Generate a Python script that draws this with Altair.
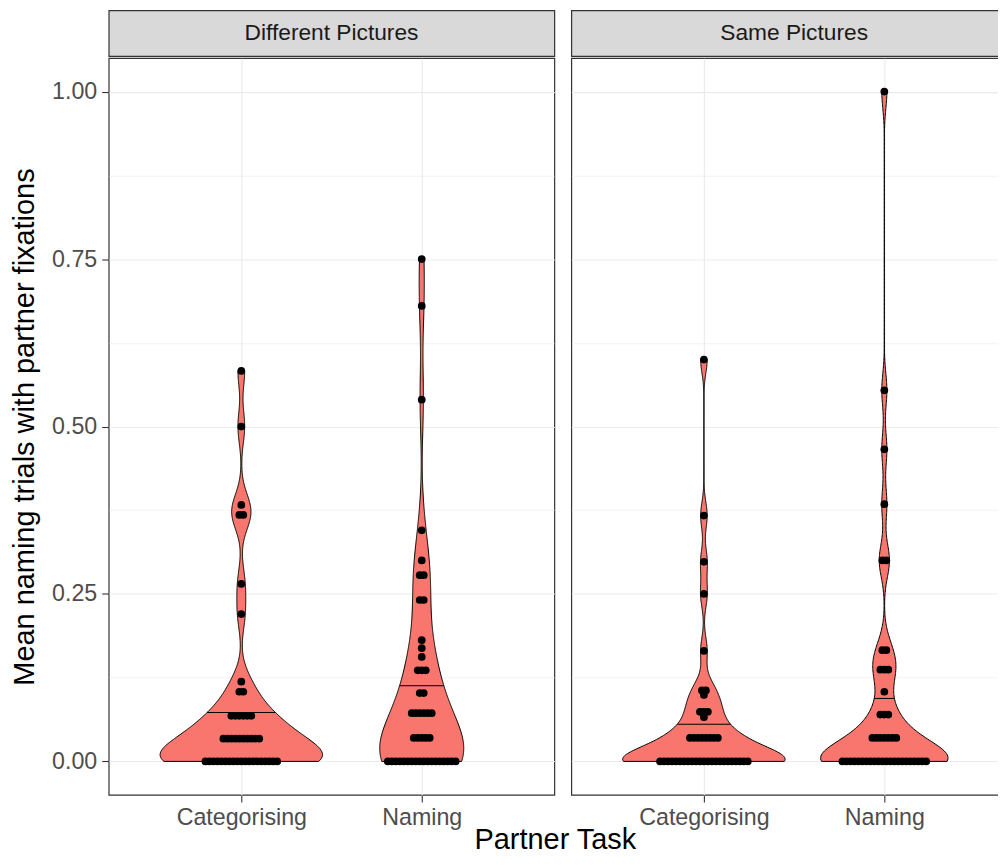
import numpy as np
import pandas as pd
import altair as alt

FONT = "Liberation Sans"

panels = ["Different Pictures", "Same Pictures"]
tasks = ["Categorising", "Naming"]
task_pos = [1, 2]

# dot values (participant means) and how many dots sit at each value
dc_levels = [0.0, 0.034, 0.068, 0.104, 0.119, 0.22, 0.265, 0.368, 0.383, 0.5, 0.583]
dc_counts = [19, 10, 6, 2, 1, 1, 1, 2, 1, 1, 1]
dn_levels = [0.0, 0.035, 0.072, 0.102, 0.136, 0.156, 0.169, 0.181, 0.241, 0.278, 0.30, 0.345, 0.54, 0.68, 0.75]
dn_counts = [18, 5, 6, 2, 3, 1, 1, 1, 2, 2, 1, 1, 1, 1, 1]
sc_levels = [0.0, 0.035, 0.066, 0.074, 0.099, 0.106, 0.165, 0.25, 0.298, 0.367, 0.6]
sc_counts = [23, 8, 1, 3, 1, 2, 1, 1, 1, 1, 1]
sn_levels = [0.0, 0.035, 0.07, 0.104, 0.137, 0.166, 0.30, 0.384, 0.466, 0.554, 1.0]
sn_counts = [22, 7, 3, 1, 3, 2, 2, 1, 1, 1, 1]

# violin median lines and kernel bandwidths
median_values = [0.073, 0.113, 0.0555, 0.094]   # DC, DN, SC, SN
bandwidths = [0.025, 0.05, 0.02, 0.025]

y_ticks = [0.0, 0.125, 0.25, 0.375, 0.5, 0.625, 0.75, 0.875, 1.0]
y_domain = [-0.05, 1.05]

group_keys = [(panels[0], tasks[0]), (panels[0], tasks[1]), (panels[1], tasks[0]), (panels[1], tasks[1])]
group_levels = [dc_levels, dn_levels, sc_levels, sn_levels]
group_counts = [dc_counts, dn_counts, sc_counts, sn_counts]

vrows, mrows, drows = [], [], []
for panel in panels:
    dens = {}
    for key, lv, ct, bw, med in zip(group_keys, group_levels, group_counts, bandwidths, median_values):
        if key[0] != panel:
            continue
        task = key[1]
        pos = task_pos[tasks.index(task)]
        vals = np.repeat(np.array(lv, float), ct)
        grid = np.linspace(vals.min(), vals.max(), 512)
        z = (grid[:, None] - vals[None, :]) / bw
        d = np.exp(-0.5 * z * z).sum(axis=1) / (len(vals) * bw * np.sqrt(2 * np.pi))
        dens[task] = (pos, grid, d, med)
        for v in vals:
            drows.append(dict(panel=panel, task=task, pos=pos, value=float(v)))
    dmax = max(d.max() for (_, _, d, _) in dens.values())
    for task, (pos, grid, d, med) in dens.items():
        hw = 0.45 * d / dmax
        for g, h in zip(grid, hw):
            vrows.append(dict(panel=panel, task=task, y=float(g), xl=float(pos - h), xr=float(pos + h)))
        hm = 0.45 * float(np.interp(med, grid, d)) / dmax
        mrows.append(dict(panel=panel, task=task, y=med, xl=pos - hm, xr=pos + hm))

vdf = pd.DataFrame(vrows)
mdf = pd.DataFrame(mrows)
ddf = pd.DataFrame(drows)

W1, W2, H = 447, 447, 739
X0 = 0.265
UNIT = W1 / (2 * (1.5 - X0))   # px per x unit
STEP = 4.0 / UNIT              # dot stacking step

LABEL_FS = 23.3
TITLE_FS = 29

major = "abs(datum.value*4 - round(datum.value*4)) < 0.001"
grid_w = {"condition": {"test": major, "value": 1.2}, "value": 0.6}

yaxis_left = alt.Axis(
    values=y_ticks, title="Mean naming trials with partner fixations",
    titleFont=FONT, titleFontSize=TITLE_FS, titleFontWeight="normal", titleColor="black",
    titlePadding=12, labelFont=FONT, labelFontSize=LABEL_FS, labelColor="#4D4D4D",
    labelPadding=5, labelExpr=f"{major} ? format(datum.value, '.2f') : ''",
    labelOverlap=False, labelFlush=False,
    tickSize=7, tickColor="#333333", tickWidth=1.1,
    tickOpacity={"condition": {"test": major, "value": 1}, "value": 0},
    grid=True, gridColor="#EBEBEB", gridWidth=grid_w, domain=False,
    minExtent=57, maxExtent=57)

yaxis_right = alt.Axis(
    values=y_ticks, title=None, labels=False, ticks=False,
    grid=True, gridColor="#EBEBEB", gridWidth=grid_w, domain=False,
    minExtent=0, maxExtent=0)

xaxis = alt.Axis(
    values=task_pos, title=None,
    labelExpr=f"datum.value == 1 ? '{tasks[0]}' : '{tasks[1]}'",
    labelFont=FONT, labelFontSize=LABEL_FS, labelColor="#4D4D4D", labelPadding=5,
    labelFlush=False, labelOverlap=False,
    tickSize=7, tickColor="#333333", tickWidth=1.1,
    grid=True, gridColor="#EBEBEB", gridWidth=1.2, domain=False)


def panel_chart(panel, width, yaxis):
    xs = alt.Scale(domain=[X0, X0 + width / UNIT], nice=False, zero=False)
    ys = alt.Scale(domain=y_domain, nice=False, zero=False)
    flt = alt.datum.panel == panel
    violin = alt.Chart(vdf).transform_filter(flt).mark_area(
        orient="horizontal", fill="#F8766D", stroke="black", strokeWidth=1
    ).encode(
        y=alt.Y("y:Q", scale=ys, axis=yaxis),
        x=alt.X("xl:Q", scale=xs, axis=xaxis),
        x2="xr:Q",
        detail="task:N",
    )
    med = alt.Chart(mdf).transform_filter(flt).mark_rule(color="black", strokeWidth=1).encode(
        y=alt.Y("y:Q", scale=ys, axis=yaxis),
        x=alt.X("xl:Q", scale=xs, axis=xaxis),
        x2="xr:Q",
    )
    dots = alt.Chart(ddf).transform_filter(flt).transform_window(
        idx="row_number()", groupby=["task", "value"]
    ).transform_joinaggregate(
        cnt="count()", groupby=["task", "value"]
    ).transform_calculate(
        xd=f"datum.pos + (datum.idx - 1 - (datum.cnt - 1) / 2) * {STEP}"
    ).mark_circle(size=60, color="black", opacity=1).encode(
        x=alt.X("xd:Q", scale=xs, axis=xaxis),
        y=alt.Y("value:Q", scale=ys, axis=yaxis),
    )
    return alt.layer(violin, med, dots).properties(
        width=width, height=H,
        view=alt.ViewBackground(stroke="#333333", strokeWidth=1.2, fill="white"))


def strip(panel, width):
    return alt.Chart(pd.DataFrame({"label": [panel]})).mark_text(
        font=FONT, fontSize=22.8, color="#1A1A1A"
    ).encode(text="label:N").properties(
        width=width, height=46,
        view=alt.ViewBackground(fill="#D9D9D9", stroke="#333333", strokeWidth=1.2))


col1 = alt.vconcat(strip(panels[0], W1), panel_chart(panels[0], W1, yaxis_left), spacing=0)
col2 = alt.vconcat(strip(panels[1], W2), panel_chart(panels[1], W2, yaxis_right), spacing=0)

chart = alt.hconcat(col1, col2, spacing=15).properties(
    title=alt.TitleParams("Partner Task", orient="bottom", anchor="middle", frame="group",
                          dx=448, font=FONT, fontSize=TITLE_FS, fontWeight="normal",
                          color="black", offset=-4),
    padding={"left": 2, "top": 0, "right": -20, "bottom": 0},
).configure(background="white")

chart.save("out.html", embed_options={"renderer": "svg", "actions": False})
